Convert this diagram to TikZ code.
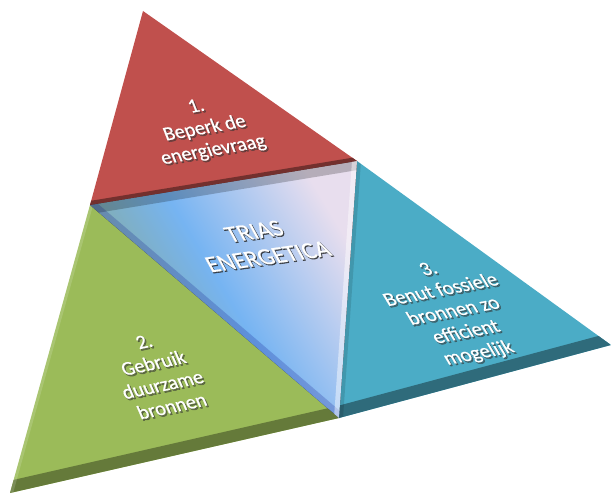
\documentclass[tikz,border=0pt]{standalone}
\usepackage{fontspec}
\setmainfont{Carlito}
\newfontfamily\haloface[FakeBold=2.5]{Carlito}
\newfontfamily\labelface[FakeBold=0.6]{Carlito}
\usepackage{tikz}
\usetikzlibrary{calc}
\definecolor{redface}{HTML}{C0504D}
\definecolor{greenface}{HTML}{9BBB59}
\definecolor{blueface}{HTML}{4BACC6}
\definecolor{innerleft}{RGB}{140,168,128}
\definecolor{innermid}{RGB}{118,180,242}
\definecolor{innerright}{RGB}{232,222,238}

\begin{document}
\begin{tikzpicture}[x=1pt, y=-1pt]
\tikzstyle{every node}=[text=white, align=center, inner sep=0pt,
                        font=\labelface\fontsize{20}{23}\selectfont]
\tikzstyle{txtshade}=[text=black!80, opacity=.5,
                      font=\haloface\fontsize{20}{23}\selectfont]
\tikzstyle{trias}=[font=\labelface\fontsize{24}{27}\selectfont]
\tikzstyle{triasshade}=[text=black!85, opacity=.75,
                        font=\haloface\fontsize{24}{27}\selectfont]
\useasboundingbox (0,0) rectangle (611,495);
\coordinate (A) at (143,11);
\coordinate (L) at (90,205);
\coordinate (R) at (357,161);
\coordinate (BL) at (10,493);
\coordinate (B) at (339,418);
\coordinate (T) at (611,345);

% faces
\fill[redface] (A) -- (L) -- (R) -- cycle;
\fill[greenface] (L) -- (BL) -- (B) -- cycle;
\fill[blueface] (R) -- (T) -- (B) -- cycle;
\fill[top color=innerright, bottom color=innerleft, middle color=innermid,
      shading angle=-59] (L) -- (R) -- (B) -- cycle;

% bevels
\foreach \u/\v/\w/\e/\f/\lw/\c/\o in {A/L/R/L/R/8/redface!60!black/1,
    L/BL/B/BL/B/24/greenface!62!black/.9, L/BL/B/L/BL/6/white/.15,
    R/T/B/B/T/24/blueface!58!black/.9, R/T/B/R/B/8/black/.12,
    L/R/B/L/R/18/black/.22, L/R/B/L/B/12/blue!50!black/.2,
    L/R/B/R/B/10/white/.45}{
  \begin{scope}
    \clip (\u) -- (\v) -- (\w) -- cycle;
    \draw[line width=\lw pt, \c, opacity=\o] (\e) -- (\f);
  \end{scope}
}

% labels
\node[txtshade, rotate=10, xslant=-.2] (lbl1s) at (206.5,130.5) {1.\\Beperk de\\energievraag};
\node[rotate=10, xslant=-.2] (lbl1) at (205,129) {1.\\Beperk de\\energievraag};
\node[txtshade, rotate=12, xslant=-.2] (lbl2s) at (159.5,375.5) {2.\\Gebruik\\duurzame\\bronnen};
\node[rotate=12, xslant=-.2] (lbl2) at (158,374) {2.\\Gebruik\\duurzame\\bronnen};
\node[txtshade, rotate=11, xslant=-.36] (lbl3s) at (455.5,313.5) {3.\\Benut fossiele\\bronnen zo\\efficient\\mogelijk};
\node[rotate=11, xslant=-.36] (lbl3) at (454,312) {3.\\Benut fossiele\\bronnen zo\\efficient\\mogelijk};
\node[triasshade, rotate=8, xslant=-.38] (triass) at (262,245) {TRIAS\\ENERGETICA};
\node[trias, rotate=8, xslant=-.38] (trias) at (261,244) {TRIAS\\ENERGETICA};

\end{tikzpicture}
\end{document}
